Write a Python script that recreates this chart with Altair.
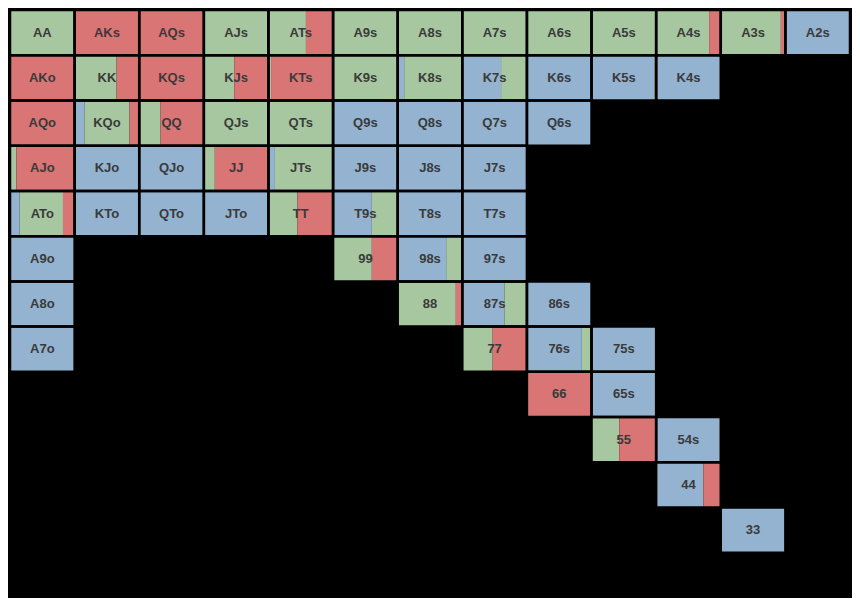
import pandas as pd
import altair as alt

# hand, column, row, blue share, green share, red share
hands = ["AA", "AKs", "AQs", "AJs", "ATs", "A9s", "A8s", "A7s", "A6s", "A5s", "A4s", "A3s", "A2s",
         "AKo", "KK", "KQs", "KJs", "KTs", "K9s", "K8s", "K7s", "K6s", "K5s", "K4s",
         "AQo", "KQo", "QQ", "QJs", "QTs", "Q9s", "Q8s", "Q7s", "Q6s",
         "AJo", "KJo", "QJo", "JJ", "JTs", "J9s", "J8s", "J7s",
         "ATo", "KTo", "QTo", "JTo", "TT", "T9s", "T8s", "T7s",
         "A9o", "99", "98s", "97s",
         "A8o", "88", "87s", "86s",
         "A7o", "77", "76s", "75s",
         "66", "65s", "55", "54s", "44", "33"]
cols = [0, 1, 2, 3, 4, 5, 6, 7, 8, 9, 10, 11, 12,
        0, 1, 2, 3, 4, 5, 6, 7, 8, 9, 10,
        0, 1, 2, 3, 4, 5, 6, 7, 8,
        0, 1, 2, 3, 4, 5, 6, 7,
        0, 1, 2, 3, 4, 5, 6, 7,
        0, 5, 6, 7,
        0, 6, 7, 8,
        0, 7, 8, 9,
        8, 9, 9, 10, 10, 11]
rows = [0] * 13 + [1] * 11 + [2] * 9 + [3] * 8 + [4] * 8 + [5] * 4 + [6] * 4 + [7] * 4 + [8, 8, 9, 9, 10, 11]
blue = [0, 0, 0, 0, 0, 0, 0, 0, 0, 0, 0, 0, 1,
        0, 0, 0, 0, 0, 0, 0.1, 0.6, 1, 0.97, 1,
        0, 0.15, 0, 0, 0, 1, 1, 1, 1,
        0, 1, 1, 0, 0.1, 1, 1, 1,
        0.15, 1, 1, 1, 0, 0.6, 1, 1,
        1, 0, 0.75, 1,
        1, 0, 0.65, 1,
        1, 0, 0.85, 1,
        0, 1, 0, 1, 0.73, 1]
green = [1, 0, 0, 1, 0.58, 1, 1, 1, 1, 1, 0.82, 0.93, 0,
         0, 0.65, 0, 0.47, 0.04, 1, 0.9, 0.4, 0, 0.03, 0,
         0, 0.7, 0.33, 1, 1, 0, 0, 0, 0,
         0.1, 0, 0, 0.17, 0.9, 0, 0, 0,
         0.67, 0, 0, 0, 0.45, 0.4, 0, 0,
         0, 0.6, 0.25, 0,
         0, 0.9, 0.35, 0,
         0, 0.47, 0.15, 0,
         0.01, 0, 0.43, 0, 0, 0]
red = [round(1 - b - g, 3) for b, g in zip(blue, green)]

segs = []
for h, c, r, b, g, rd in zip(hands, cols, rows, blue, green, red):
    start = 0
    for name, share in [("blue", b), ("green", g), ("red", rd)]:
        if share > 0:
            segs.append({"hand": h, "x": c + start, "x2": c + start + share,
                         "y": r, "y2": r + 1, "kind": name})
            start += share
seg_df = pd.DataFrame(segs)
cells = pd.DataFrame({"hand": hands, "x": cols, "x2": [c + 1 for c in cols],
                      "y": rows, "y2": [r + 1 for r in rows],
                      "cx": [c + 0.5 for c in cols], "cy": [r + 0.5 for r in rows]})

xs = alt.Scale(domain=[0, 13], nice=False, zero=False)
ys = alt.Scale(domain=[0, 13], nice=False, zero=False, reverse=True)
colors = alt.Scale(domain=["blue", "green", "red"], range=["#93b3d0", "#a7c7a0", "#d97575"])

bars = alt.Chart(seg_df).mark_rect().encode(
    x=alt.X("x:Q", scale=xs, axis=None),
    x2="x2",
    y=alt.Y("y:Q", scale=ys, axis=None),
    y2="y2",
    color=alt.Color("kind:N", scale=colors, legend=None),
)

borders = alt.Chart(cells).mark_rect(fillOpacity=0, stroke="black", strokeWidth=2.5).encode(
    x=alt.X("x:Q", scale=xs, axis=None), x2="x2",
    y=alt.Y("y:Q", scale=ys, axis=None), y2="y2",
)

labels = alt.Chart(cells).mark_text(font="Liberation Sans", fontSize=13, fontWeight="bold", color="#3a3a3a").encode(
    x=alt.X("cx:Q", scale=xs, axis=None),
    y=alt.Y("cy:Q", scale=ys, axis=None),
    text="hand",
)

chart = (bars + borders + labels).properties(
    width=844, height=590, background="black", padding=0,
    autosize=alt.AutoSizeParams(type="fit", contains="padding"),
).configure_view(stroke=None)

chart.save("out.html", embed_options={"renderer": "svg", "actions": False})
